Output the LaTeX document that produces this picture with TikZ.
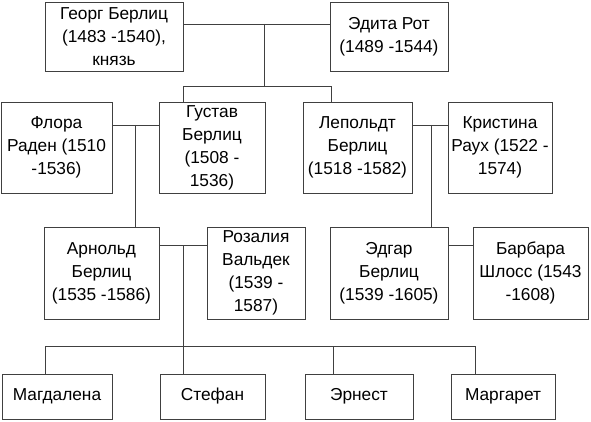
\documentclass[tikz,border=0pt]{standalone}
\usepackage{fontspec}
\setmainfont{Liberation Sans}
\usetikzlibrary{calc}

\begin{document}
\begin{tikzpicture}[x=1pt,y=-1pt,
    person/.style={draw=black!75, line width=0.9pt, inner sep=0pt, align=center,
      font=\fontsize{17.3}{23}\selectfont},
    link/.style={draw=black!75, line width=0.9pt}]
		\useasboundingbox (0,0) rectangle (591,422);
		
		% first generation
		\node [person, minimum width=138, minimum height=69] (georg) at (114,36.5) {Георг Берлиц\\(1483 -1540),\\князь};
		\node [person, minimum width=118, minimum height=69] (edita) at (389,36.5) {Эдита Рот\\(1489 -1544)};
		
		% second generation
		\node [person, minimum width=111, minimum height=91] (flora) at (56.5,147.5) {Флора\\Раден (1510\\-1536)};
		\node [person, minimum width=106, minimum height=91] (gustav) at (212,147.5) {Густав\\Берлиц\\(1508 -\\1536)};
		\node [person, minimum width=109, minimum height=91] (lepoldt) at (357.5,147.5) {Лепольдт\\Берлиц\\(1518 -1582)};
		\node [person, minimum width=104, minimum height=91] (kristina) at (500,147.5) {Кристина\\Раух (1522 -\\1574)};
		
		% third generation
		\node [person, minimum width=115, minimum height=92] (arnold) at (101.5,273) {Арнольд\\Берлиц\\(1535 -1586)};
		\node [person, minimum width=98, minimum height=92] (rozalia) at (256,273) {Розалия\\Вальдек\\(1539 -\\1587)};
		\node [person, minimum width=118, minimum height=92] (edgar) at (389,273) {Эдгар\\Берлиц\\(1539 -1605)};
		\node [person, minimum width=115, minimum height=92] (barbara) at (530.5,273) {Барбара\\Шлосс (1543\\-1608)};
		
		% children
		\node [person, minimum width=110, minimum height=45] (magdalena) at (57,396.5) {Магдалена};
		\node [person, minimum width=105, minimum height=45] (stefan) at (212.5,396.5) {Стефан};
		\node [person, minimum width=108, minimum height=45] (ernest) at (359,396.5) {Эрнест};
		\node [person, minimum width=104, minimum height=45] (margaret) at (503,396.5) {Маргарет};
		
		% junctions
		\coordinate (ge) at (264,24);
		\coordinate (gk) at (264,86);
		\coordinate (k1) at (183,86);
		\coordinate (k2) at (331,86);
		\coordinate (fg) at (135,125);
		\coordinate (lk) at (431,125);
		\coordinate (ar) at (183,245);
		\coordinate (eb) at (460,245);
		\coordinate (b1) at (45,346);
		\coordinate (b2) at (183,346);
		\coordinate (b3) at (333,346);
		\coordinate (b4) at (475,346);
		
		\draw [link] (georg.east |- ge) -- (edita.west |- ge);
		\draw [link] (ge) -- (gk);
		\draw [link] (gustav.north -| k1) -- (k1) -- (k2) -- (lepoldt.north -| k2);
		
		\draw [link] (flora.east |- fg) -- (gustav.west |- fg);
		\draw [link] (fg) -- (arnold.north -| fg);
		\draw [link] (lepoldt.east |- lk) -- (kristina.west |- lk);
		\draw [link] (lk) -- (edgar.north -| lk);
		
		\draw [link] (arnold.east |- ar) -- (rozalia.west |- ar);
		\draw [link] (edgar.east |- eb) -- (barbara.west |- eb);
		\draw [link] (ar) -- (stefan.north -| ar);
		
		\draw [link] (b1) -- (b4);
		\foreach \c/\n in {b1/magdalena, b3/ernest, b4/margaret}
			\draw [link] (\c) -- (\n.north -| \c);
		
\end{tikzpicture}
\end{document}
